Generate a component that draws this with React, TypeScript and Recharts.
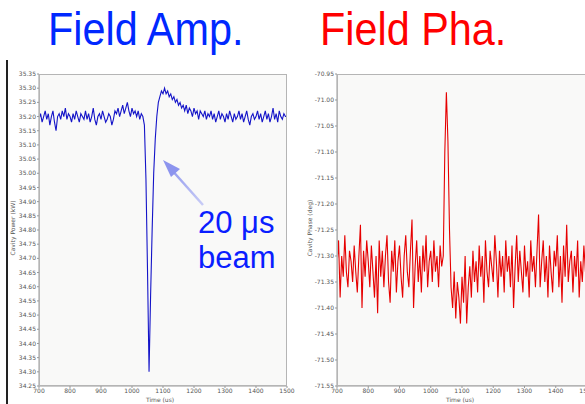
import { LineChart, Line, XAxis, YAxis, CartesianGrid } from 'recharts';

// time axis (us)
const TIME = [
  700, 705, 710, 715, 720, 725, 730, 735, 740, 745,
  750, 755, 760, 765, 770, 775, 780, 785, 790, 795,
  800, 805, 810, 815, 820, 825, 830, 835, 840, 845,
  850, 855, 860, 865, 870, 875, 880, 885, 890, 895,
  900, 905, 910, 915, 920, 925, 930, 935, 940, 945,
  950, 955, 960, 965, 970, 975, 980, 985, 990, 995,
  1000, 1005, 1010, 1015, 1020, 1025, 1030, 1035, 1040, 1045,
  1050, 1055, 1060, 1065, 1070, 1075, 1080, 1085, 1090, 1095,
  1100, 1105, 1110, 1115, 1120, 1125, 1130, 1135, 1140, 1145,
  1150, 1155, 1160, 1165, 1170, 1175, 1180, 1185, 1190, 1195,
  1200, 1205, 1210, 1215, 1220, 1225, 1230, 1235, 1240, 1245,
  1250, 1255, 1260, 1265, 1270, 1275, 1280, 1285, 1290, 1295,
  1300, 1305, 1310, 1315, 1320, 1325, 1330, 1335, 1340, 1345,
  1350, 1355, 1360, 1365, 1370, 1375, 1380, 1385, 1390, 1395,
  1400, 1405, 1410, 1415, 1420, 1425, 1430, 1435, 1440, 1445,
  1450, 1455, 1460, 1465, 1470, 1475, 1480, 1485, 1490, 1495,
  1500,
];

// cavity power (kW)
const AMP = [
  35.19, 35.21, 35.18, 35.20, 35.22, 35.19, 35.21, 35.17, 35.20, 35.22,
  35.18, 35.15, 35.20, 35.21, 35.19, 35.22, 35.20, 35.23, 35.19, 35.21,
  35.20, 35.18, 35.21, 35.19, 35.22, 35.20, 35.18, 35.21, 35.20, 35.19,
  35.22, 35.19, 35.21, 35.18, 35.20, 35.23, 35.19, 35.17, 35.20, 35.21,
  35.19, 35.22, 35.20, 35.18, 35.19, 35.21, 35.20, 35.17, 35.19, 35.22,
  35.21, 35.23, 35.20, 35.22, 35.24, 35.21, 35.23, 35.25, 35.22, 35.20,
  35.23, 35.21, 35.22, 35.20, 35.22, 35.19, 35.21, 35.20, 35.17, 34.98,
  34.66, 34.30, 34.57, 34.80, 35.00, 35.12, 35.20, 35.25, 35.27, 35.29,
  35.28, 35.30, 35.28, 35.29, 35.27, 35.28, 35.26, 35.27, 35.25, 35.26,
  35.24, 35.25, 35.23, 35.24, 35.22, 35.24, 35.21, 35.23, 35.22, 35.20,
  35.23, 35.21, 35.22, 35.19, 35.22, 35.21, 35.20, 35.22, 35.19, 35.21,
  35.20, 35.22, 35.19, 35.21, 35.18, 35.20, 35.22, 35.19, 35.21, 35.20,
  35.18, 35.21, 35.19, 35.22, 35.20, 35.18, 35.21, 35.19, 35.20, 35.22,
  35.19, 35.21, 35.18, 35.20, 35.22, 35.19, 35.17, 35.20, 35.21, 35.19,
  35.20, 35.22, 35.19, 35.21, 35.18, 35.20, 35.22, 35.19, 35.21, 35.18,
  35.20, 35.23, 35.19, 35.21, 35.18, 35.22, 35.20, 35.19, 35.21, 35.20,
  35.20,
];

// cavity phase (deg)
const PHA = [
  -71.32, -71.27, -71.38, -71.30, -71.34, -71.26, -71.33, -71.36, -71.29, -71.31,
  -71.35, -71.28, -71.33, -71.37, -71.30, -71.24, -71.40, -71.29, -71.34, -71.27,
  -71.31, -71.36, -71.28, -71.33, -71.38, -71.30, -71.41, -71.27, -71.34, -71.29,
  -71.36, -71.30, -71.26, -71.35, -71.39, -71.29, -71.33, -71.27, -71.37, -71.31,
  -71.28, -71.34, -71.38, -71.30, -71.26, -71.33, -71.36, -71.29, -71.23, -71.40,
  -71.32, -71.27, -71.35, -71.30, -71.37, -71.28, -71.33, -71.26, -71.36, -71.31,
  -71.29, -71.35, -71.27, -71.33, -71.30, -71.36, -71.28, -71.32, -71.30, -71.10,
  -70.985, -71.08, -71.25, -71.36, -71.40, -71.33, -71.42, -71.35, -71.38, -71.43,
  -71.34, -71.39, -71.30, -71.43, -71.36, -71.32, -71.38, -71.29, -71.35, -71.31,
  -71.37, -71.28, -71.34, -71.30, -71.39, -71.27, -71.33, -71.36, -71.29, -71.32,
  -71.35, -71.26, -71.31, -71.38, -71.29, -71.34, -71.30, -71.37, -71.27, -71.33,
  -71.30, -71.36, -71.28, -71.40, -71.32, -71.26, -71.35, -71.29, -71.33, -71.37,
  -71.28, -71.34, -71.31, -71.38, -71.27, -71.33, -71.30, -71.36, -71.29, -71.22,
  -71.36, -71.31, -71.27, -71.35, -71.30, -71.38, -71.28, -71.33, -71.37, -71.29,
  -71.32, -71.26, -71.36, -71.30, -71.39, -71.28, -71.34, -71.24, -71.35, -71.31,
  -71.29, -71.37, -71.30, -71.34, -71.27, -71.38, -71.31, -71.35, -71.28, -71.33,
  -71.32,
];

const X_TICKS = [700, 800, 900, 1000, 1100, 1200, 1300, 1400, 1500];
const AMP_TICKS = [
  34.25, 34.3, 34.35, 34.4, 34.45, 34.5, 34.55, 34.6, 34.65, 34.7, 34.75, 34.8,
  34.85, 34.9, 34.95, 35.0, 35.05, 35.1, 35.15, 35.2, 35.25, 35.3, 35.35,
];
const PHA_TICKS = [
  -71.55, -71.5, -71.45, -71.4, -71.35, -71.3, -71.25, -71.2, -71.15, -71.1,
  -71.05, -71.0, -70.95,
];

const data = TIME.map((t, i) => ({ t, amp: AMP[i], pha: PHA[i] }));

const tickStyle = { fontSize: 6, fill: '#555', fontFamily: 'DejaVu Sans' };
const smallLabel: React.CSSProperties = {
  position: 'absolute',
  fontFamily: 'DejaVu Sans',
  fontSize: 6,
  color: '#555',
  whiteSpace: 'nowrap',
  lineHeight: '6px',
};

function Panel({
  dataKey,
  color,
  domain,
  yTicks,
  left,
}: {
  dataKey: string;
  color: string;
  domain: [number, number];
  yTicks: number[];
  left: number;
}) {
  return (
    <div style={{ position: 'absolute', left, top: 0 }}>
      <LineChart
        width={300}
        height={404}
        data={data}
        margin={{ top: 74, right: 13, bottom: 6, left: left === 0 ? 9 : 7 }}
      >
        <CartesianGrid horizontal={false} vertical={false} fill="#f9f9f8" />
        <XAxis
          dataKey="t"
          type="number"
          domain={[700, 1500]}
          ticks={X_TICKS}
          interval={0}
          height={12}
          tick={tickStyle}
          tickSize={2}
          tickMargin={1}
          stroke="#999"
          allowDataOverflow
        />
        <YAxis
          type="number"
          domain={domain}
          ticks={yTicks}
          interval={0}
          width={30}
          tick={tickStyle}
          tickSize={2}
          tickMargin={1}
          stroke="#999"
          tickFormatter={(v: number) => v.toFixed(2)}
          allowDataOverflow
        />
        <Line
          type="linear"
          dataKey={dataKey}
          stroke={color}
          strokeWidth={1.1}
          dot={false}
          isAnimationActive={false}
        />
      </LineChart>
    </div>
  );
}

export default function App() {
  return (
    <div
      style={{
        position: 'absolute',
        left: 0,
        top: 0,
        width: 585,
        height: 404,
        overflow: 'hidden',
        background: '#fff',
      }}
    >
      <div
        style={{
          position: 'absolute',
          left: 48,
          top: 5,
          fontFamily: 'Liberation Sans',
          fontSize: 47,
          lineHeight: '47px',
          color: '#0028ff',
          whiteSpace: 'nowrap',
          transform: 'scaleX(0.88)',
          transformOrigin: 'left top',
        }}
      >
        Field Amp.
      </div>
      <div
        style={{
          position: 'absolute',
          left: 320,
          top: 5,
          fontFamily: 'Liberation Sans',
          fontSize: 47,
          lineHeight: '47px',
          color: '#ff0000',
          whiteSpace: 'nowrap',
          transform: 'scaleX(0.88)',
          transformOrigin: 'left top',
        }}
      >
        Field Pha.
      </div>

      <Panel dataKey="amp" color="#1414c8" domain={[34.25, 35.35]} yTicks={AMP_TICKS} left={0} />
      <Panel dataKey="pha" color="#e60000" domain={[-71.55, -70.95]} yTicks={PHA_TICKS} left={300} />

      {/* plot frames */}
      <div style={{ position: 'absolute', left: 39, top: 74, width: 248, height: 312, border: '1px solid #b5b5b5', boxSizing: 'border-box' }} />
      <div style={{ position: 'absolute', left: 337, top: 74, width: 249, height: 312, border: '1px solid #b5b5b5', boxSizing: 'border-box' }} />

      {/* slide edge */}
      <div style={{ position: 'absolute', left: 6, top: 60, width: 2, height: 344, background: '#222' }} />

      {/* axis titles */}
      <div style={{ ...smallLabel, left: 13, top: 228, transform: 'translate(-50%, -50%) rotate(-90deg)' }}>
        Cavity Power (kW)
      </div>
      <div style={{ ...smallLabel, left: 310, top: 228, transform: 'translate(-50%, -50%) rotate(-90deg)' }}>
        Cavity Phase (deg)
      </div>
      <div style={{ ...smallLabel, left: 160, top: 397, transform: 'translateX(-50%)' }}>Time (us)</div>
      <div style={{ ...smallLabel, left: 460, top: 397, transform: 'translateX(-50%)' }}>Time (us)</div>

      {/* annotation */}
      <svg width={585} height={404} style={{ position: 'absolute', left: 0, top: 0 }}>
        <defs>
          <linearGradient id="arr" x1="203" y1="205" x2="166" y2="163" gradientUnits="userSpaceOnUse">
            <stop offset="0" stopColor="#c8ccf6" />
            <stop offset="1" stopColor="#8c94ee" />
          </linearGradient>
        </defs>
        <line x1={203} y1={205} x2={170} y2={168} stroke="url(#arr)" strokeWidth={2.5} />
        <polygon points="163,160 180,169 171,177" fill="#8c94ee" />
      </svg>
      <div
        style={{
          position: 'absolute',
          left: 198,
          top: 207,
          fontFamily: 'Liberation Sans',
          fontSize: 31,
          lineHeight: '31px',
          color: '#0a1eff',
          whiteSpace: 'nowrap',
        }}
      >
        20 μs
      </div>
      <div
        style={{
          position: 'absolute',
          left: 198,
          top: 242,
          fontFamily: 'Liberation Sans',
          fontSize: 31,
          lineHeight: '31px',
          color: '#0a1eff',
          whiteSpace: 'nowrap',
        }}
      >
        beam
      </div>
    </div>
  );
}
